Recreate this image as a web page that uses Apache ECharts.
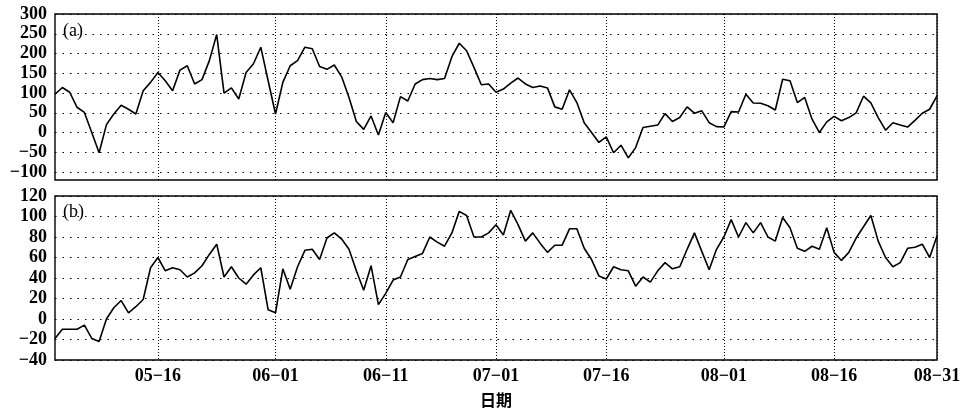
<!DOCTYPE html>
<html>
<head>
<meta charset="utf-8">
<title>chart</title>
<script src="https://cdn.jsdelivr.net/npm/echarts@6/dist/echarts.min.js"></script>
<style>
  html, body { margin: 0; padding: 0; background: #fff; }
  #chart { width: 964px; height: 411px; }
</style>
</head>
<body>
<div id="chart"></div>
<script>
  // 日期: 05-02 .. 08-30, one point per day
  var dates = [];
  for (var d = new Date(2000, 4, 2); d <= new Date(2000, 7, 30); d.setDate(d.getDate() + 1)) {
    dates.push(('0' + (d.getMonth() + 1)).slice(-2) + '-' + ('0' + d.getDate()).slice(-2));
  }

  // x轴刻度 (label text as printed in the figure)
  var tickDates = ['05-16', '06-01', '06-16', '07-01', '07-16', '08-01', '08-16', '08-30'];
  var tickLabels = ['05-16', '06-01', '06-11', '07-01', '07-16', '08-01', '08-16', '08-31'];

  // y轴刻度
  var ticksA = [-100, -50, 0, 50, 100, 150, 200, 250, 300];

  // (a)
  var seriesA = [
    97, 114, 102, 64, 51, 0, -51, 20, 47, 69,
    59, 47, 106, 127, 152, 131, 106, 158, 169, 123,
    134, 182, 248, 100, 113, 85, 152, 174, 216, 131,
    47, 127, 169, 182, 216, 212, 167, 160, 171, 141,
    89, 28, 8, 42, -6, 51, 25, 91, 80, 123,
    134, 137, 134, 137, 192, 226, 207, 165, 121, 123,
    102, 110, 125, 138, 123, 114, 118, 113, 65, 59,
    108, 76, 25, 0, -25, -11, -51, -32, -64, -38,
    13, 16, 19, 48, 28, 38, 65, 49, 55, 25,
    15, 14, 53, 52, 97, 75, 74, 68, 57, 135,
    131, 76, 89, 34, 0, 27, 41, 30, 38, 50,
    92, 75, 38, 6, 25, 19, 14, 31, 49, 59,
    93
  ];

  // (b)
  var seriesB = [
    -19, -10, -10, -10, -6, -19, -22, 0, 11, 18,
    6, 12, 19, 50, 60, 47, 50, 48, 41, 45,
    52, 63, 73, 41, 51, 40, 34, 43, 50, 9,
    6, 49, 29, 51, 67, 68, 58, 79, 84, 78,
    68, 47, 28, 52, 14, 25, 38, 41, 58, 61,
    64, 80, 75, 71, 84, 105, 101, 80, 80, 84,
    92, 82, 106, 92, 76, 84, 74, 65, 72, 72,
    88, 88, 69, 58, 42, 39, 51, 48, 47, 32,
    41, 36, 47, 55, 49, 51, 68, 84, 66, 48,
    68, 80, 97, 80, 94, 84, 94, 80, 76, 99,
    89, 69, 66, 71, 68, 89, 65, 57, 65, 79,
    90, 101, 76, 60, 51, 55, 69, 70, 73, 60,
    81
  ];

  var FONT = '"Liberation Serif", "Times New Roman", serif';

  function isTick(index, value) {
    return tickDates.indexOf(value) >= 0;
  }

  function minus(v) {
    return String(v).replace('-', '\u2212');
  }

  var chart = echarts.init(document.getElementById('chart'));

  var xAxes = [0, 1].map(function (gi) {
    return {
      type: 'category',
      gridIndex: gi,
      data: dates,
      boundaryGap: false,
      axisLine: {show: false},
      axisTick: {show: false},
      axisLabel: {
        show: gi === 1,
        interval: isTick,
        formatter: function (v) { return minus(tickLabels[tickDates.indexOf(v)]); },
        color: '#000',
        fontFamily: FONT,
        fontSize: 18,
        fontWeight: 'bold',
        margin: 7
      },
      splitLine: {
        show: true,
        interval: isTick,
        lineStyle: {color: '#000', type: [1, 2], width: 1}
      },
      name: gi === 1 ? '日期' : '',
      nameLocation: 'middle',
      nameGap: 32,
      nameTextStyle: {color: '#000', fontFamily: '"Noto Sans CJK SC"', fontSize: 16, fontWeight: 'bold'}
    };
  });

  var hLine = {show: true, lineStyle: {color: '#000', type: [1.5, 6], width: 1.2}};
  var yLabel = {color: '#000', fontFamily: FONT, fontSize: 18, fontWeight: 'bold', margin: 8, formatter: minus};

  chart.setOption({
    animation: false,
    grid: [
      {left: 55, right: 27, top: 14, height: 166, show: true, borderColor: '#000', borderWidth: 1.4},
      {left: 55, right: 27, top: 196, height: 164, show: true, borderColor: '#000', borderWidth: 1.4}
    ],
    xAxis: xAxes,
    yAxis: [
      {
        type: 'value',
        gridIndex: 0,
        min: -120,
        max: 300,
        axisLine: {show: false},
        axisTick: {show: false, customValues: ticksA},
        axisLabel: Object.assign({customValues: ticksA}, yLabel),
        splitLine: hLine
      },
      {
        type: 'value',
        gridIndex: 1,
        min: -40,
        max: 120,
        interval: 20,
        axisLine: {show: false},
        axisTick: {show: false},
        axisLabel: yLabel,
        splitLine: hLine
      }
    ],
    graphic: [
      {type: 'text', left: 63, top: 22, style: {text: '(a)', font: '18px ' + FONT, fill: '#000'}},
      {type: 'text', left: 63, top: 203, style: {text: '(b)', font: '18px ' + FONT, fill: '#000'}}
    ],
    series: [
      {
        type: 'line', xAxisIndex: 0, yAxisIndex: 0, data: seriesA,
        showSymbol: false, lineStyle: {color: '#000', width: 1.6}
      },
      {
        type: 'line', xAxisIndex: 1, yAxisIndex: 1, data: seriesB,
        showSymbol: false, lineStyle: {color: '#000', width: 1.6}
      }
    ]
  });
</script>
</body>
</html>
